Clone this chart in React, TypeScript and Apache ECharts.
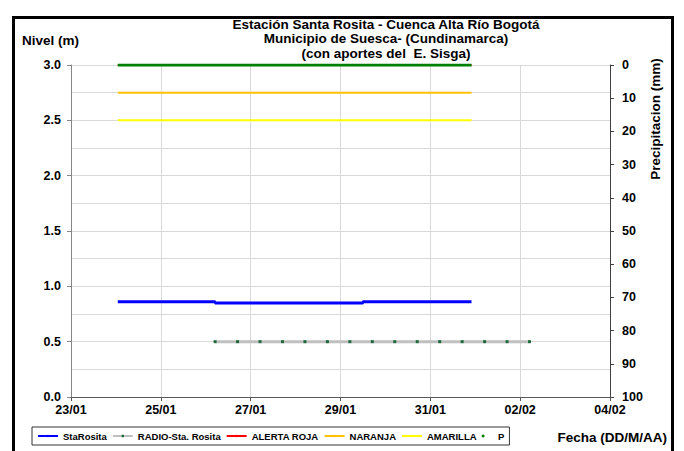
import React, { useEffect, useRef } from "react";
import * as echarts from "echarts";

const START = "2014-01-23T00:00:00Z";
const xTickLabels = ["23/01", "25/01", "27/01", "29/01", "31/01", "02/02", "04/02"];

const staRositaTimes = ["2014-01-24T01:00:00Z", "2014-01-26T05:00:00Z", "2014-01-29T12:00:00Z", "2014-01-31T22:00:00Z"];
const staRositaValues = [0.86, 0.85, 0.86, 0.86];

const radioTimes = [
  "2014-01-26T05:00:00Z", "2014-01-26T17:00:00Z", "2014-01-27T05:00:00Z", "2014-01-27T17:00:00Z",
  "2014-01-28T05:00:00Z", "2014-01-28T17:00:00Z", "2014-01-29T05:00:00Z", "2014-01-29T17:00:00Z",
  "2014-01-30T05:00:00Z", "2014-01-30T17:00:00Z", "2014-01-31T05:00:00Z", "2014-01-31T17:00:00Z",
  "2014-02-01T05:00:00Z", "2014-02-01T17:00:00Z", "2014-02-02T05:00:00Z",
];
const radioValues = [0.5, 0.5, 0.5, 0.5, 0.5, 0.5, 0.5, 0.5, 0.5, 0.5, 0.5, 0.5, 0.5, 0.5, 0.5];

const thresholdTimes = ["2014-01-24T01:00:00Z", "2014-01-31T22:00:00Z"];
const alertaRojaValues = [3.0, 3.0];
const naranjaValues = [2.75, 2.75];
const amarillaValues = [2.5, 2.5];

const pTimes = ["2014-01-24T01:00:00Z", "2014-01-31T22:00:00Z"];
const pValues = [0, 0];

const titleLines = [
  "Estación Santa Rosita - Cuenca Alta Río Bogotá",
  "Municipio de Suesca- (Cundinamarca)",
  "(con aportes del  E. Sisga)",
];

const FONT = "'Liberation Sans', Arial, sans-serif";

const toDays = (t: string) => (Date.parse(t) - Date.parse(START)) / 86400000;
const pairs = (times: string[], vals: number[]) => times.map((t, i) => [toDays(t), vals[i]]);

export default function App() {
  const ref = useRef<HTMLDivElement>(null);
  useEffect(() => {
    if (!ref.current) return;
    const chart = echarts.init(ref.current, undefined, { renderer: "svg" });
    const gridColor = "#d9d9d9";
    chart.setOption({
      animation: false,
      backgroundColor: "#ffffff",
      textStyle: { fontFamily: FONT },
      grid: { left: 71, right: 74, top: 65, bottom: 54 },
      legend: {
        left: 32,
        top: 427,
        orient: "horizontal",
        itemWidth: 20,
        itemHeight: 3,
        itemGap: 5,
        padding: [4, 5],
        borderColor: "#333",
        borderWidth: 1,
        textStyle: { fontFamily: FONT, fontSize: 9.5, fontWeight: "bold", color: "#000" },
        data: [
          "StaRosita",
          "RADIO-Sta. Rosita",
          "ALERTA ROJA",
          "NARANJA",
          "AMARILLA",
          { name: "P", icon: "circle" },
        ],
      },
      xAxis: {
        type: "value",
        min: 0,
        max: 12,
        interval: 2,
        axisLine: { show: true, onZero: false, lineStyle: { color: "#595959", width: 1 } },
        axisTick: { show: true, length: 4, lineStyle: { color: "#595959" } },
        axisLabel: {
          formatter: (v: number) => xTickLabels[Math.round(v / 2)] ?? "",
          fontSize: 12.5,
          fontWeight: "bold",
          color: "#000",
          margin: 6,
          fontFamily: FONT,
        },
        splitLine: { show: true, lineStyle: { color: gridColor, width: 1 } },
      },
      yAxis: [
        {
          type: "value",
          min: 0,
          max: 3,
          interval: 0.5,
          axisLine: { show: true, lineStyle: { color: "#868686" } },
          axisTick: { show: true, length: 4, lineStyle: { color: "#868686" } },
          axisLabel: {
            formatter: (v: number) => v.toFixed(1),
            fontSize: 12.5,
            fontWeight: "bold",
            color: "#000",
            margin: 10,
            fontFamily: FONT,
          },
          splitLine: { show: true, lineStyle: { color: gridColor, width: 1 } },
          minorTick: { show: false, splitNumber: 2 },
          minorSplitLine: { show: true, lineStyle: { color: gridColor, width: 1 } },
        },
        {
          type: "value",
          min: 0,
          max: 100,
          interval: 10,
          inverse: true,
          position: "right",
          axisLine: { show: true, lineStyle: { color: "#404040" } },
          axisTick: { show: true, length: 4, lineStyle: { color: "#404040" } },
          axisLabel: {
            fontSize: 12.5,
            fontWeight: "bold",
            color: "#000",
            margin: 12,
            fontFamily: FONT,
          },
          splitLine: { show: false },
        },
      ],
      series: [
        {
          name: "ALERTA ROJA",
          type: "line",
          data: pairs(thresholdTimes, alertaRojaValues),
          symbol: "none",
          lineStyle: { color: "#ff0000", width: 2 },
          itemStyle: { color: "#ff0000" },
        },
        {
          name: "NARANJA",
          type: "line",
          data: pairs(thresholdTimes, naranjaValues),
          symbol: "none",
          lineStyle: { color: "#ffc000", width: 2 },
          itemStyle: { color: "#ffc000" },
        },
        {
          name: "AMARILLA",
          type: "line",
          data: pairs(thresholdTimes, amarillaValues),
          symbol: "none",
          lineStyle: { color: "#ffff00", width: 2 },
          itemStyle: { color: "#ffff00" },
        },
        {
          name: "RADIO-Sta. Rosita",
          type: "line",
          data: pairs(radioTimes, radioValues),
          symbol: "rect",
          symbolSize: 3,
          showSymbol: true,
          lineStyle: { color: "#c0c0c0", width: 3 },
          itemStyle: { color: "#1e6b3c" },
        },
        {
          name: "StaRosita",
          type: "line",
          step: "end",
          data: pairs(staRositaTimes, staRositaValues),
          symbol: "none",
          lineStyle: { color: "#0000ff", width: 3 },
          itemStyle: { color: "#0000ff" },
        },
        {
          name: "P",
          type: "line",
          yAxisIndex: 1,
          data: pairs(pTimes, pValues),
          symbol: "none",
          lineStyle: { color: "#008000", width: 3 },
          itemStyle: { color: "#008000" },
        },
      ],
      graphic: [
        {
          type: "rect",
          shape: { x: 13.5, y: 17.5, width: 659, height: 460 },
          style: { fill: "none", stroke: "#000", lineWidth: 3 },
          silent: true,
          z: 100,
        },
        ...titleLines.map((t, i) => ({
          type: "text",
          x: 386,
          y: 24 + i * 14.5,
          style: {
            text: t,
            fontFamily: FONT,
            fontSize: 13.5,
            fontWeight: "bold",
            fill: "#000",
            align: "center",
            verticalAlign: "middle",
          },
        })),
        {
          type: "text",
          x: 22,
          y: 40,
          style: {
            text: "Nivel (m)",
            fontFamily: FONT,
            fontSize: 13.5,
            fontWeight: "bold",
            fill: "#000",
            align: "left",
            verticalAlign: "middle",
          },
        },
        {
          type: "text",
          x: 655,
          y: 119,
          rotation: Math.PI / 2,
          style: {
            text: "Precipitacion (mm)",
            fontFamily: FONT,
            fontSize: 13.5,
            fontWeight: "bold",
            fill: "#000",
            align: "center",
            verticalAlign: "middle",
          },
        },
        {
          type: "text",
          x: 667,
          y: 437,
          style: {
            text: "Fecha (DD/M/AA)",
            fontFamily: FONT,
            fontSize: 13.5,
            fontWeight: "bold",
            fill: "#000",
            align: "right",
            verticalAlign: "middle",
          },
        },
      ],
    });
    return () => chart.dispose();
  }, []);
  return (
    <div
      ref={ref}
      style={{ position: "absolute", left: 0, top: 0, width: 684, height: 451, background: "#fff" }}
    />
  );
}
